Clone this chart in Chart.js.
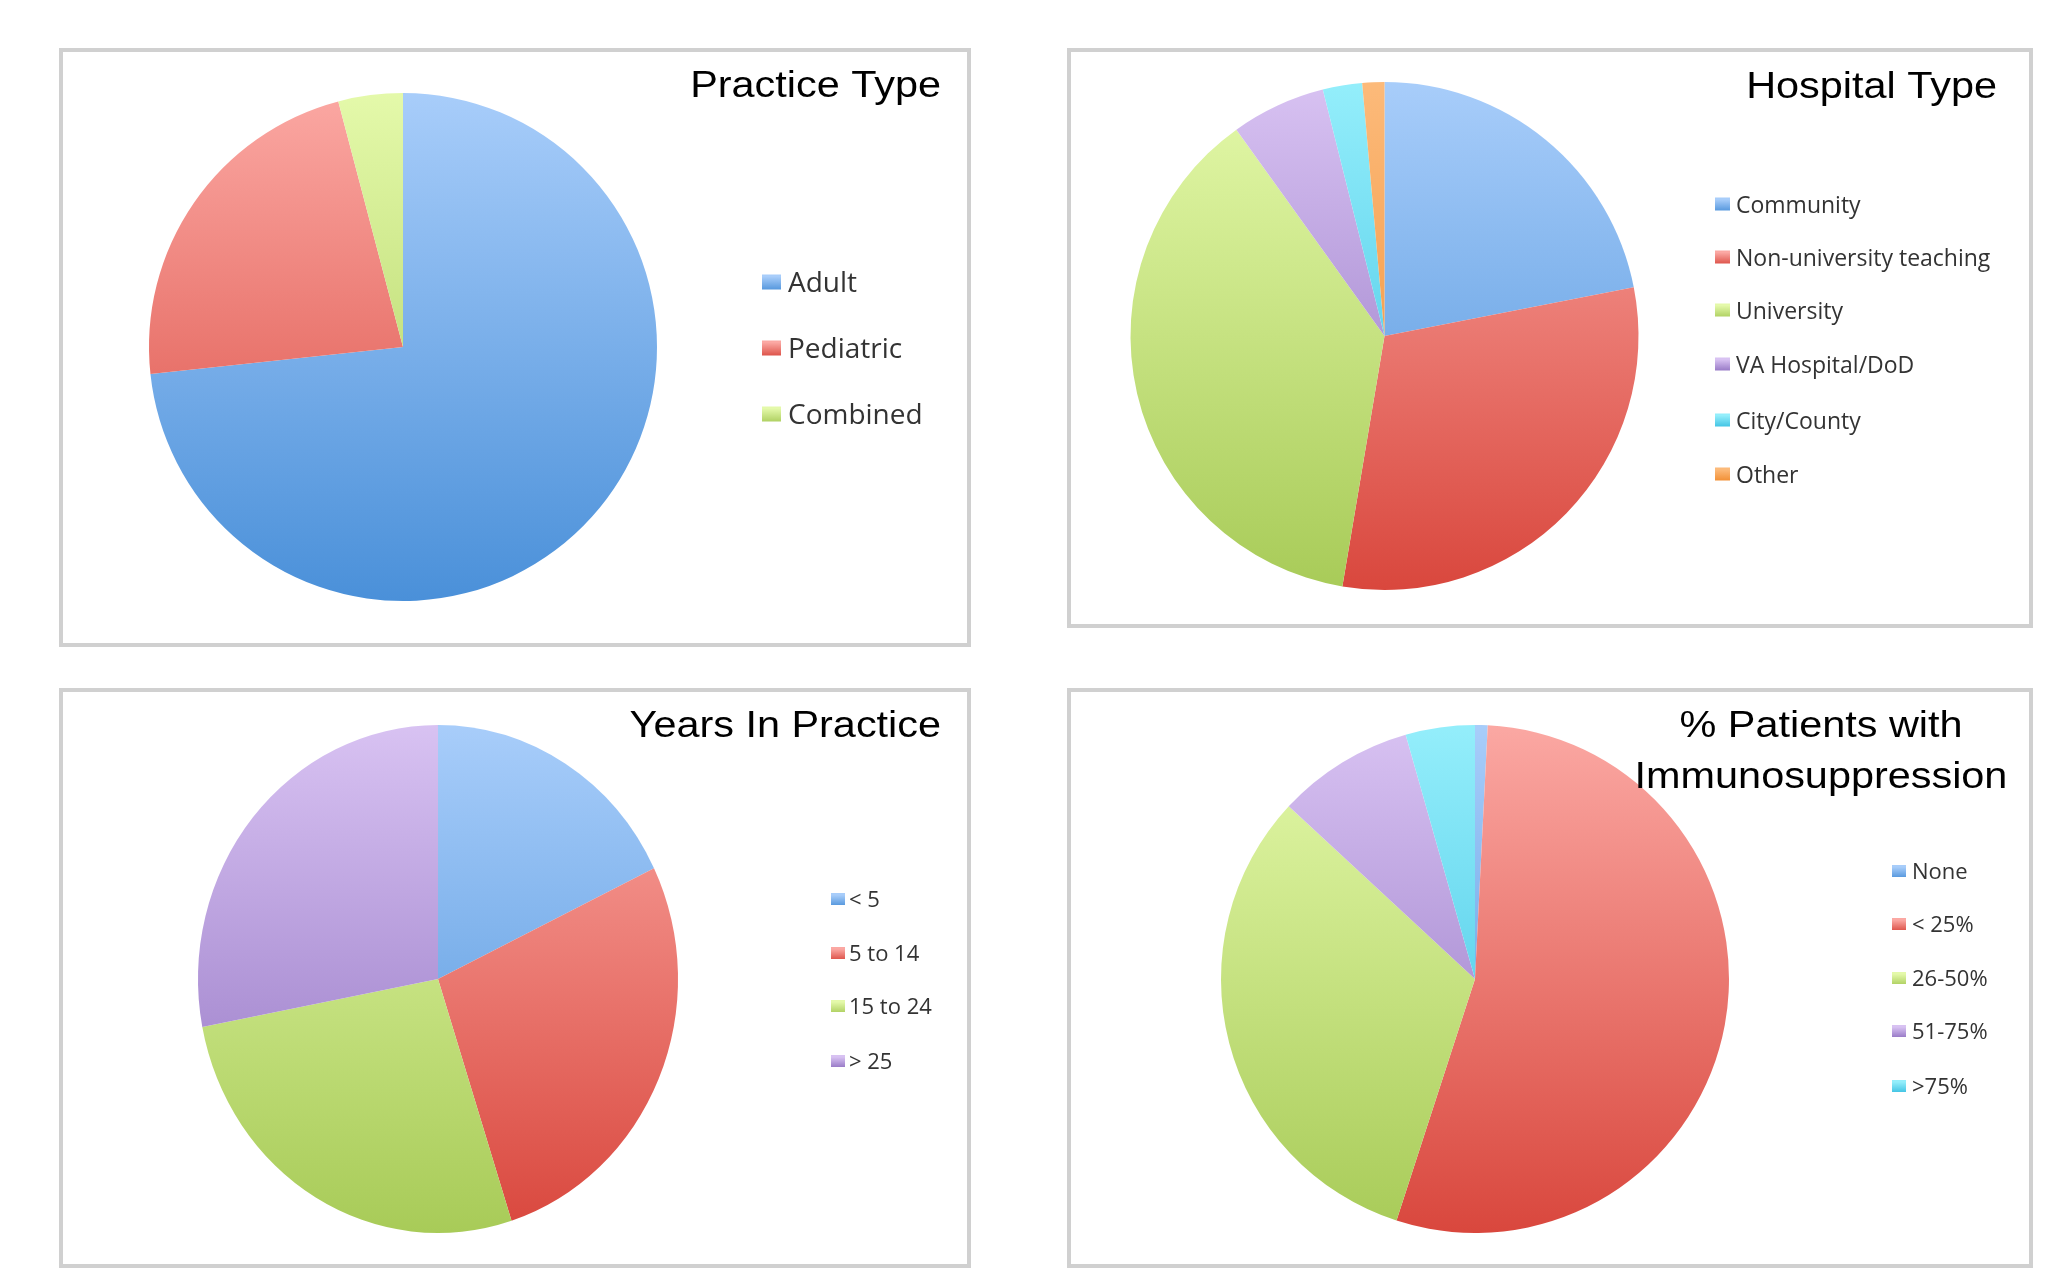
<!DOCTYPE html>
<html>
<head>
<meta charset="utf-8">
<title>Survey respondents</title>
<script src="https://cdn.jsdelivr.net/npm/chart.js@4.4.1/dist/chart.umd.min.js"></script>
<style>
  html, body { margin: 0; padding: 0; background: #fff; }
  body { width: 2046px; height: 1279px; position: relative; overflow: hidden; }
  .panel { position: absolute; box-sizing: border-box; border: 4px solid #d0d0d0; background: #fff; }
  .panel canvas { display: block; }
</style>
</head>
<body>
<div class="panel" id="p1"><canvas id="c1"></canvas></div>
<div class="panel" id="p2"><canvas id="c2"></canvas></div>
<div class="panel" id="p3"><canvas id="c3"></canvas></div>
<div class="panel" id="p4"><canvas id="c4"></canvas></div>
<script>
// ---- data (percent of respondents) ----
const practiceLabels = ['Adult', 'Pediatric', 'Combined'];
const practiceValues = [73.3, 22.6, 4.1];

const hospitalLabels = ['Community', 'Non-university teaching', 'University', 'VA Hospital/DoD', 'City/County', 'Other'];
const hospitalValues = [21.9, 30.7, 37.4, 6.0, 2.5, 1.4];

const yearsLabels = ['< 5', '5 to 14', '15 to 24', '> 25'];
const yearsValues = [17.8, 27.2, 26.9, 28.0];

const immunoLabels = ['None', '< 25%', '26-50%', '51-75%', '>75%'];
const immunoValues = [0.8, 54.2, 31.9, 8.7, 4.4];

// Excel-style gradient fills: [top, bottom]
const palette = [
    ['#a8cdfa', '#4a90d9'],  // blue
    ['#fba8a3', '#d9473d'],  // red
    ['#e4f9aa', '#a8cb58'],  // green
    ['#d8c2f2', '#8d6ebf'],  // purple
    ['#94eefb', '#35bde0'],  // cyan
    ['#fcba7a', '#f0892a']   // orange
];

// panel boxes and pie geometry, page coordinates
const panels = [
    { id: 'p1', canvas: 'c1', box: [59, 48, 912, 599], pie: { cx: 403, cy: 347, r: 254, sx: 1 },
      labels: practiceLabels, values: practiceValues,
      title: ['Practice Type'], titleX: 941, titleY: 97, titleAlign: 'right',
      legend: { sq: 762, tx: 788, rows: [284, 350, 416], size: 28, w: 19, h: 15 } },
    { id: 'p2', canvas: 'c2', box: [1067, 48, 966, 580], pie: { cx: 1384.5, cy: 336, r: 254, sx: 1 },
      labels: hospitalLabels, values: hospitalValues,
      title: ['Hospital Type'], titleX: 1997, titleY: 98, titleAlign: 'right',
      legend: { sq: 1715, tx: 1736, rows: [206, 259, 312, 366, 422, 476], size: 23, w: 15, h: 13 } },
    { id: 'p3', canvas: 'c3', box: [59, 688, 912, 580], pie: { cx: 438, cy: 979, r: 254, sx: 0.945 },
      labels: yearsLabels, values: yearsValues,
      title: ['Years In Practice'], titleX: 941, titleY: 737, titleAlign: 'right',
      legend: { sq: 831, tx: 849, rows: [901, 955, 1008, 1063], size: 22, w: 14, h: 12 } },
    { id: 'p4', canvas: 'c4', box: [1067, 688, 966, 580], pie: { cx: 1475, cy: 979, r: 254, sx: 1 },
      labels: immunoLabels, values: immunoValues,
      title: ['% Patients with', 'Immunosuppression'], titleX: 1821, titleY: 737, titleAlign: 'center',
      legend: { sq: 1892, tx: 1912, rows: [873, 926, 980, 1033, 1088], size: 22, w: 14, h: 12 } }
];

const BORDER = 4;

// squeeze the pie horizontally if needed, then draw title + legend on top
const panelDecor = {
    id: 'panelDecor',
    beforeDatasetsDraw(chart, args, opts) {
        const a = chart.chartArea;
        const cx = (a.left + a.right) / 2, cy = (a.top + a.bottom) / 2;
        const ctx = chart.ctx;
        ctx.save();
        ctx.translate(cx, cy);
        ctx.scale(opts.squeeze || 1, 1);
        ctx.translate(-cx, -cy);
    },
    afterDatasetsDraw(chart) {
        chart.ctx.restore();
    },
    afterDraw(chart, args, opts) {
        const ctx = chart.ctx;

        // title (slightly stretched Arial, like the slide)
        ctx.save();
        ctx.fillStyle = '#000';
        ctx.font = '36px "Liberation Sans", Arial, sans-serif';
        ctx.textBaseline = 'alphabetic';
        opts.title.forEach((line, i) => {
            const w = ctx.measureText(line).width * 1.15;
            const x = opts.titleAlign === 'center' ? opts.titleX - w / 2 : opts.titleX - w;
            ctx.save();
            ctx.translate(x, opts.titleY + i * 51);
            ctx.scale(1.15, 1);
            ctx.fillText(line, 0, 0);
            ctx.restore();
        });
        ctx.restore();

        // legend
        const lg = opts.legend;
        ctx.save();
        ctx.font = lg.size + 'px "Open Sans", sans-serif';
        ctx.textBaseline = 'middle';
        chart.data.labels.forEach((label, i) => {
            const y = lg.rows[i];
            const c = palette[i];
            const g = ctx.createLinearGradient(0, y - lg.h / 2, 0, y + lg.h / 2);
            g.addColorStop(0, c[0]);
            g.addColorStop(1, c[1]);
            ctx.fillStyle = g;
            ctx.fillRect(lg.sq, y - lg.h / 2 - 2, lg.w, lg.h);
            ctx.fillStyle = '#333';
            ctx.fillText(label, lg.tx, y);
        });
        ctx.restore();
    }
};

// one scriptable fill for all slices: vertical gradient across the pie
function sliceFill(context) {
    const c = palette[context.dataIndex % palette.length];
    const a = context.chart.chartArea;
    if (!a) return c[1];
    const g = context.chart.ctx.createLinearGradient(0, a.top, 0, a.bottom);
    g.addColorStop(0, c[0]);
    g.addColorStop(1, c[1]);
    return g;
}

panels.forEach(p => {
    const el = document.getElementById(p.id);
    const [left, top, w, h] = p.box;
    el.style.left = left + 'px';
    el.style.top = top + 'px';
    el.style.width = w + 'px';
    el.style.height = h + 'px';

    // inner origin of the canvas on the page
    const ox = left + BORDER, oy = top + BORDER;
    const iw = w - 2 * BORDER, ih = h - 2 * BORDER;
    const pie = p.pie;

    new Chart(document.getElementById(p.canvas), {
        type: 'pie',
        data: {
            labels: p.labels,
            datasets: [{
                data: p.values,
                backgroundColor: sliceFill,
                borderWidth: 0,
                hoverOffset: 0,
                offset: 0
            }]
        },
        options: {
            responsive: true,
            maintainAspectRatio: false,
            animation: false,
            events: [],
            layout: {
                padding: {
                    left: pie.cx - pie.r - ox,
                    top: pie.cy - pie.r - oy,
                    right: (ox + iw) - (pie.cx + pie.r),
                    bottom: (oy + ih) - (pie.cy + pie.r)
                }
            },
            plugins: {
                legend: { display: false },
                tooltip: { enabled: false },
                panelDecor: {
                    squeeze: pie.sx,
                    title: p.title,
                    titleX: p.titleX - ox,
                    titleY: p.titleY - oy,
                    titleAlign: p.titleAlign,
                    legend: {
                        sq: p.legend.sq - ox,
                        tx: p.legend.tx - ox,
                        rows: p.legend.rows.map(y => y - oy),
                        size: p.legend.size,
                        w: p.legend.w,
                        h: p.legend.h
                    }
                }
            }
        },
        plugins: [panelDecor]
    });
});
</script>
</body>
</html>
